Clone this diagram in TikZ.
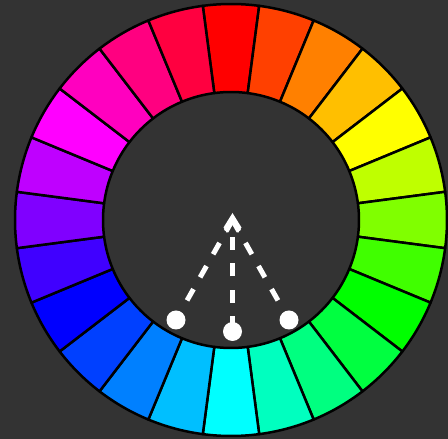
\documentclass[tikz,border=0pt]{standalone}
\usetikzlibrary{backgrounds}
\definecolor{bg}{HTML}{333333}
\pgfdeclarelayer{lines}
\pgfsetlayers{background,lines,main}
\tikzset{
  dot/.style={circle, fill=white, inner sep=0pt, minimum size=19pt},
  dashline/.style={white, line width=5pt, dash pattern=on 13pt off 13.5pt},
  sector/.style={draw=black, line width=2.5pt, line join=round},
}
\begin{document}
\begin{tikzpicture}[x=1pt,y=1pt]
\useasboundingbox (0,0) rectangle (448,439);
\begin{scope}[on background layer]
  \fill[bg] (-3,-3) rectangle (451,442);
  \begin{scope}[shift={(231,219)}]
    \foreach \c [count=\i from 0] in {FF0000,FF4000,FF8000,FFBF00,FFFF00,BFFF00,80FF00,40FF00,00FF00,00FF40,00FF80,00FFBF,00FFFF,00BFFF,0080FF,0040FF,0000FF,4000FF,8000FF,BF00FF,FF00FF,FF00BF,FF0080,FF0040}{
      \pgfmathsetmacro\aa{90-15*\i-7.5}
      \pgfmathsetmacro\ab{90-15*\i+7.5}
      \definecolor{segcol}{HTML}{\c}
      \filldraw[sector, fill=segcol] (\aa:216) arc[start angle=\aa, end angle=\ab, radius=216]
        -- (\ab:128) arc[start angle=\ab, end angle=\aa, radius=128] -- cycle;
    }
  \end{scope}
\end{scope}
% dots
\node[dot] (dl) at (176,119) {};
\node[dot] (dm) at (232.5,107.5) {};
\node[dot] (dr) at (289,119) {};
\coordinate (ctr) at (232.5,219);
\coordinate (lineend) at (232.5,210.5);
\coordinate (notch) at (232.5,214.5);
\coordinate (tip) at (232.5,226);
\coordinate (lb) at (223.5,211.5);
\coordinate (lc) at (227,206);
\coordinate (rc) at (238,206);
\coordinate (rb) at (241.5,211.5);
\begin{pgfonlayer}{lines}
  \draw[dashline, dash phase=4pt] (dl.center) -- (ctr);
  \draw[dashline, dash phase=4pt] (dr.center) -- (ctr);
  \draw[dashline, dash phase=24.3pt] (dm.center) -- (lineend);
\end{pgfonlayer}
\fill[white] (tip) -- (rb) -- (rc) -- (notch) -- (lc) -- (lb) -- cycle;
\end{tikzpicture}
\end{document}
